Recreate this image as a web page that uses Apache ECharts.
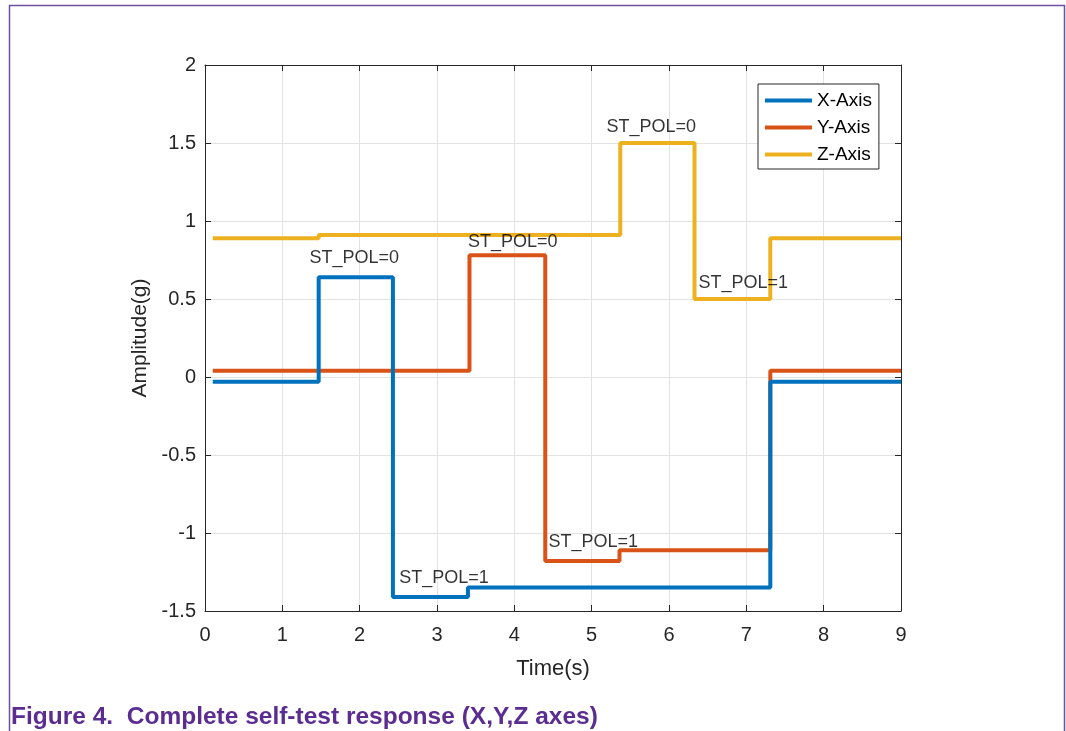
<!DOCTYPE html>
<html lang="en">
<head>
    <meta charset="UTF-8">
    <title>Self-test response</title>
    <script src="https://cdn.jsdelivr.net/npm/echarts@6/dist/echarts.min.js"></script>
    <style>
        html, body { margin: 0; padding: 0; background: #fff; }
    </style>
</head>
<body>
    <div id="main" style="width: 1066px; height: 731px;"></div>
    <script>
    var myChart = echarts.init(document.getElementById('main'));

    // step breakpoints (s) and the level held after each one (g)
    var xTimes  = [0.1, 1.47, 2.43, 3.40, 7.31, 9.0];
    var xLevels = [-0.03, 0.64, -1.41, -1.35, -0.03];
    var yTimes  = [0.1, 3.42, 4.40, 5.36, 7.31, 9.0];
    var yLevels = [0.04, 0.78, -1.18, -1.11, 0.04];
    var zTimes  = [0.1, 1.47, 5.37, 6.33, 7.31, 9.0];
    var zLevels = [0.89, 0.91, 1.50, 0.50, 0.89];

    var seriesNames = ['X-Axis', 'Y-Axis', 'Z-Axis'];
    var colors = ['#0072BD', '#D95319', '#EDB120'];

    // annotation text: [time, amplitude, text]
    var notes = [
        [1.93, 0.76, 'ST_POL=0'],
        [3.09, -1.29, 'ST_POL=1'],
        [3.98, 0.865, 'ST_POL=0'],
        [5.02, -1.06, 'ST_POL=1'],
        [5.77, 1.60, 'ST_POL=0'],
        [6.96, 0.60, 'ST_POL=1']
    ];

    var font = 'Liberation Sans, Arial, Helvetica, sans-serif';
    var ink = '#262626';

    function makeSteps(times, levels) {
        var pts = [];
        for (var i = 0; i < levels.length; i++) {
            pts.push([times[i], levels[i]]);
        }
        pts.push([times[times.length - 1], levels[levels.length - 1]]);
        return pts;
    }

    var stepData = [
        makeSteps(xTimes, xLevels),
        makeSteps(yTimes, yLevels),
        makeSteps(zTimes, zLevels)
    ];

    var series = [];
    for (var i = 0; i < 3; i++) {
        series.push({
            name: seriesNames[i],
            type: 'line',
            step: 'end',
            showSymbol: false,
            data: stepData[i],
            lineStyle: { color: colors[i], width: 4 },
            itemStyle: { color: colors[i] },
            z: 3 - i
        });
    }
    series.push({
        name: 'notes',
        type: 'scatter',
        symbolSize: 1,
        itemStyle: { color: 'transparent' },
        data: notes.map(function (n) { return { value: [n[0], n[1]], label: { formatter: n[2] } }; }),
        label: {
            show: true,
            position: 'inside',
            color: '#000',
            fontSize: 18,
            fontFamily: font
        },
        silent: true,
        z: 5
    });

    var option = {
        animation: false,
        backgroundColor: '#fff',
        color: colors,
        textStyle: { fontFamily: font },
        grid: { left: 205, right: 165, top: 65, bottom: 120, containLabel: false },
        legend: {
            data: seriesNames,
            orient: 'vertical',
            left: 758,
            top: 84,
            icon: 'rect',
            itemWidth: 47,
            itemHeight: 4,
            itemGap: 8,
            padding: [7, 7, 5, 7],
            borderColor: ink,
            borderWidth: 1,
            backgroundColor: '#fff',
            textStyle: { fontSize: 19, color: '#000', fontFamily: font }
        },
        xAxis: [{
            type: 'value',
            min: 0, max: 9, interval: 1,
            name: 'Time(s)',
            nameLocation: 'middle',
            nameGap: 47,
            nameTextStyle: { fontSize: 22, color: ink, fontFamily: font },
            axisLine: { show: true, onZero: false, lineStyle: { color: ink, width: 1 } },
            axisTick: { show: true, inside: true, length: 6, lineStyle: { color: ink } },
            axisLabel: { fontSize: 20, color: ink, margin: 14, fontFamily: font },
            splitLine: { show: true, lineStyle: { color: '#e3e3e3', width: 1 } }
        }, {
            type: 'value',
            position: 'top',
            min: 0, max: 9, interval: 1,
            axisLine: { show: true, onZero: false, lineStyle: { color: ink, width: 1 } },
            axisTick: { show: true, inside: true, length: 6, lineStyle: { color: ink } },
            axisLabel: { show: false },
            splitLine: { show: false }
        }],
        yAxis: [{
            type: 'value',
            min: -1.5, max: 2, interval: 0.5,
            name: 'Amplitude(g)',
            nameLocation: 'middle',
            nameGap: 54,
            nameTextStyle: { fontSize: 21, color: ink, fontFamily: font },
            axisLine: { show: true, onZero: false, lineStyle: { color: ink, width: 1 } },
            axisTick: { show: true, inside: true, length: 6, lineStyle: { color: ink } },
            axisLabel: { fontSize: 20, color: ink, margin: 9, fontFamily: font },
            splitLine: { show: true, lineStyle: { color: '#e3e3e3', width: 1 } }
        }, {
            type: 'value',
            position: 'right',
            min: -1.5, max: 2, interval: 0.5,
            axisLine: { show: true, onZero: false, lineStyle: { color: ink, width: 1 } },
            axisTick: { show: true, inside: true, length: 6, lineStyle: { color: ink } },
            axisLabel: { show: false },
            splitLine: { show: false }
        }],
        graphic: [{
            type: 'rect',
            shape: { x: 9.5, y: 5.5, width: 1055, height: 760 },
            style: { fill: 'none', stroke: '#6f4fa0', lineWidth: 1.5 },
            silent: true,
            z: -10
        }, {
            type: 'text',
            x: 11,
            y: 717,
            style: {
                text: 'Figure 4.  Complete self-test response (X,Y,Z axes)',
                fill: '#5c2d91',
                font: 'bold 24.5px ' + font,
                verticalAlign: 'middle'
            }
        }],
        series: series
    };

    myChart.setOption(option);
    </script>
</body>
</html>
